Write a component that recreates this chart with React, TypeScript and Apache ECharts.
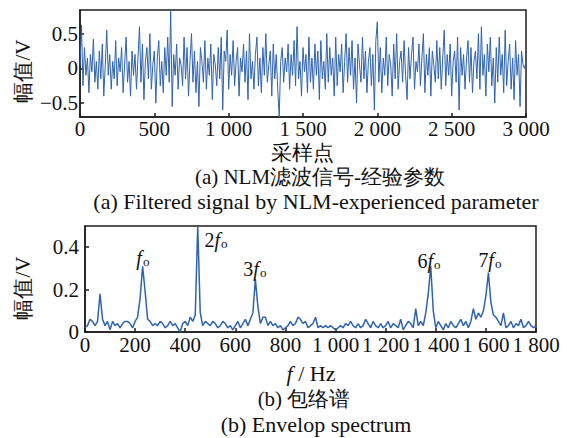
import React, { useEffect, useRef } from 'react';
import * as echarts from 'echarts';

// ---------- data ----------
const signalStep = 10; // samples between stored points
const signalValues = [
  0.05, 0.62, -0.25, 0.3, -0.1, 0.15, -0.35, 0.2, -0.05, 0.42, -0.2, 0.1, -0.3, 0.25, -0.15, 0.35, -0.4, 0.05, 0.55, -0.1,
  0.2, -0.3, 0.1, -0.15, 0.4, -0.25, 0.15, -0.05, 0.3, -0.35, 0.05, 0.45, -0.2, 0.1, -0.4, 0.25, -0.1, 0.2, -0.3, 0.15,
  0.6, -0.2, 0.35, -0.45, 0.1, 0.3, -0.15, 0.5, -0.3, 0.05, 0.25, -0.5, 0.15, 0.4, -0.25, 0.1, -0.35, 0.3, -0.1, 0.45,
  -0.2, 0.82, -0.55, 0.2, -0.1, 0.35, -0.3, 0.15, 0.05, -0.25, 0.45, -0.15, 0.3, -0.4, 0.1, 0.5, -0.2, 0.25, -0.35, 0.1,
  -0.55, 0.3, 0.1, -0.2, 0.4, -0.3, 0.15, -0.1, 0.35, -0.45, 0.2, 0.05, -0.25, 0.3, -0.15, 0.45, -0.6, 0.25, 0.1, 0.55,
  -0.3, 0.2, -0.1, 0.4, -0.25, 0.1, 0.3, -0.4, 0.15, -0.05, 0.35, -0.2, 0.25, -0.45, 0.5, -0.15, 0.1, -0.3, 0.2, 0.45,
  -0.25, 0.15, -0.35, 0.3, -0.1, 0.5, -0.2, 0.05, 0.25, -0.4, 0.35, -0.15, 0.2, -0.3, -0.7, 0.1, 0.3, -0.2, 0.15, -0.05,
  0.35, -0.3, 0.2, -0.1, 0.4, -0.25, 0.6, -0.15, 0.1, -0.4, 0.3, -0.05, 0.2, -0.35, 0.45, -0.2, 0.15, -0.3, 0.35, -0.1,
  0.25, -0.45, 0.4, -0.15, 0.1, -0.3, 0.5, -0.2, 0.3, -0.1, 0.15, -0.4, 0.45, -0.25, 0.2, -0.05, 0.35, -0.35, 0.1, 0.5,
  -0.2, 0.3, -0.1, 0.4, -0.3, 0.15, -0.5, 0.35, 0.05, -0.2, 0.45, -0.15, 0.25, -0.35, 0.1, 0.3, -0.25, 0.2, -0.6, 0.4,
  0.67, -0.2, 0.3, -0.35, 0.15, -0.1, 0.45, -0.25, 0.2, 0.05, -0.4, 0.35, -0.15, 0.5, -0.3, 0.1, 0.25, -0.2, 0.4, -0.1,
  -0.45, 0.3, -0.15, 0.2, 0.45, -0.3, 0.1, -0.05, 0.35, -0.25, 0.15, 0.5, -0.35, 0.2, -0.1, 0.3, -0.4, 0.25, 0.05, -0.2,
  0.4, -0.15, 0.3, -0.3, 0.15, 0.55, -0.25, 0.2, -0.1, 0.35, -0.4, 0.1, 0.25, -0.2, 0.45, -0.6, 0.3, -0.1, 0.2, -0.3,
  0.15, 0.4, -0.2, 0.3, -0.35, 0.1, 0.25, -0.15, 0.5, -0.3, 0.6, -0.1, 0.2, -0.4, 0.35, -0.05, 0.45, -0.25, 0.15, -0.5,
  0.3, -0.2, 0.45, -0.1, 0.2, -0.35, 0.55, -0.25, 0.1, 0.35, -0.3, 0.15, -0.45, 0.4, -0.1, 0.2, -0.55, 0.25, 0.05, 0.0,
  0.1,
];

const spectrumStep = 10; // Hz between stored points
const spectrumValues = [
  0.02, 0.03, 0.06, 0.05, 0.03, 0.05, 0.18, 0.06, 0.03, 0.05,
  0.01, 0.05, 0.03, 0.04, 0.02, 0.04, 0.05, 0.05, 0.04, 0.02,
  0.05, 0.07, 0.16, 0.31, 0.19, 0.06, 0.05, 0.03, 0.04, 0.03,
  0.05, 0.04, 0.02, 0.03, 0.05, 0.03, 0.04, 0.02, 0.0, 0.04,
  0.05, 0.03, 0.07, 0.05, 0.08, 0.5, 0.09, 0.03, 0.05, 0.04,
  0.03, 0.05, 0.04, 0.02, 0.03, 0.05, 0.04, 0.02, 0.03, 0.01,
  0.03, 0.05, 0.02, 0.04, 0.06, 0.03, 0.06, 0.09, 0.25, 0.12,
  0.04, 0.07, 0.07, 0.03, 0.05, 0.03, 0.04, 0.02, 0.03, 0.01,
  0.02, 0.03, 0.05, 0.03, 0.04, 0.07, 0.06, 0.04, 0.05, 0.02,
  0.03, 0.04, 0.07, 0.02, 0.03, 0.02, 0.03, 0.02, 0.03, 0.02,
  0.01, 0.02, 0.03, 0.02, 0.04, 0.03, 0.05, 0.03, 0.02, 0.04,
  0.02, 0.03, 0.06, 0.04, 0.02, 0.05, 0.03, 0.02, 0.04, 0.02,
  0.03, 0.05, 0.02, 0.04, 0.03, 0.02, 0.06, 0.01, 0.03, 0.05,
  0.04, 0.02, 0.11, 0.03, 0.05, 0.03, 0.09, 0.18, 0.31, 0.1,
  0.02, 0.05, 0.03, 0.01, 0.04, 0.02, 0.05, 0.03, 0.02, 0.04,
  0.06, 0.03, 0.05, 0.02, 0.05, 0.11, 0.06, 0.09, 0.07, 0.1,
  0.17, 0.28, 0.14, 0.08, 0.07, 0.05, 0.03, 0.09, 0.02, 0.03,
  0.05, 0.02, 0.04, 0.03, 0.06, 0.02, 0.03, 0.05, 0.03, 0.02,
  0.03,
];

const signalYTicks = [-0.5, 0, 0.5];
const spectrumYTicks = [0, 0.2, 0.4];

// harmonic annotations: prefix, frequency (Hz), height (V) where the label sits
const harmonicPrefixes = ['', '2', '3', '6', '7'];
const harmonicFreqs = [231, 523, 678, 1373, 1616];
const harmonicHeights = [0.355, 0.44, 0.3, 0.34, 0.345];

const topTitle = '(a) NLM滤波信号-经验参数';
const topTitleEn = '(a) Filtered signal by NLM-experienced parameter';
const bottomTitle = '(b) 包络谱';
const bottomTitleEn = '(b) Envelop spectrum';
const yName = '幅值/V';
const topXName = '采样点';

// ---------- styling ----------
const FONT = 'Liberation Serif';
const LINE_COLOR = '#2f63ae';
const AXIS_COLOR = '#1c1c1c';
const FS_TICK = 21;
const FS_CN = 21;
const FS_EN = 22;

function fmtThousands(v: number): string {
  if (v >= 1000) {
    const s = String(v);
    return s.slice(0, s.length - 3) + ' ' + s.slice(-3);
  }
  return String(v);
}
function fmtSigned(v: number): string {
  if (v < 0) return '\u2212' + String(-v);
  return String(v);
}

function axisBase() {
  return {
    axisLine: { show: true, onZero: false, lineStyle: { color: AXIS_COLOR, width: 1.5 } },
    axisTick: { show: true, inside: true, length: 4, lineStyle: { color: AXIS_COLOR, width: 1.5 } },
    splitLine: { show: false },
  };
}

export default function App() {
  const ref = useRef<HTMLDivElement>(null);

  useEffect(() => {
    if (!ref.current) return;
    const chart = echarts.init(ref.current, null, { renderer: 'svg' });

    const signalData = signalValues.map((v, i) => [i * signalStep, v]);
    const spectrumData = spectrumValues.map((v, i) => [i * spectrumStep, v]);

    const labelStyle = { fontSize: FS_TICK, color: '#111', fontFamily: FONT };

    const markData = harmonicPrefixes.map((p, i) => ({
      coord: [harmonicFreqs[i], harmonicHeights[i]],
      label: {
        show: true,
        position: 'inside',
        fontFamily: FONT,
        formatter: (p ? '{n|' + p + '}' : '') + '{f|f}{o|o}',
        rich: {
          n: { fontSize: 20, fontFamily: FONT, color: '#111', lineHeight: 22, verticalAlign: 'bottom' },
          f: { fontSize: 20, fontFamily: FONT, fontStyle: 'italic', color: '#111', lineHeight: 22, verticalAlign: 'bottom' },
          o: { fontSize: 13, fontFamily: FONT, color: '#111', lineHeight: 22, verticalAlign: 'bottom', padding: [0, 0, 0, 1] },
        },
      },
    }));

    const txt = (text: string, x: number, y: number, size: number, extra: any = {}) => ({
      type: 'text', x, y, rotation: extra.rotation || 0,
      style: {
        text, fontSize: size, fontFamily: FONT, fill: '#111',
        align: 'center', verticalAlign: 'middle',
        ...(extra.style || {}),
      },
    });

    const option: any = {
      animation: false,
      backgroundColor: '#ffffff',
      grid: [
        { left: 80, top: 10, width: 446, height: 107, show: true, borderColor: AXIS_COLOR, borderWidth: 1.5 },
        { left: 85, top: 226, width: 451, height: 106, show: true, borderColor: AXIS_COLOR, borderWidth: 1.5 },
      ],
      xAxis: [
        {
          gridIndex: 0, type: 'value', min: 0, max: 3000, interval: 500,
          ...axisBase(),
          axisLabel: { ...labelStyle, margin: 1, formatter: fmtThousands },
        },
        {
          gridIndex: 1, type: 'value', min: 0, max: 1800, interval: 200,
          ...axisBase(),
          axisLabel: { ...labelStyle, margin: 2, formatter: fmtThousands },
        },
      ],
      yAxis: [
        {
          gridIndex: 0, type: 'value', min: -0.7, max: 0.84,
          ...axisBase(),
          axisTick: { show: true, inside: true, length: 4, customValues: signalYTicks, lineStyle: { color: AXIS_COLOR, width: 1.5 } },
          axisLabel: { ...labelStyle, margin: 2, customValues: signalYTicks, formatter: fmtSigned },
        },
        {
          gridIndex: 1, type: 'value', min: 0, max: 0.5,
          ...axisBase(),
          axisTick: { show: true, inside: true, length: 4, customValues: spectrumYTicks, lineStyle: { color: AXIS_COLOR, width: 1.5 } },
          axisLabel: { ...labelStyle, margin: 6, customValues: spectrumYTicks, formatter: fmtSigned },
        },
      ],
      series: [
        {
          type: 'line', xAxisIndex: 0, yAxisIndex: 0, data: signalData,
          showSymbol: false, symbol: 'none',
          lineStyle: { color: LINE_COLOR, width: 1 },
          z: 1,
        },
        {
          type: 'line', xAxisIndex: 1, yAxisIndex: 1, data: spectrumData,
          showSymbol: false, symbol: 'none',
          lineStyle: { color: LINE_COLOR, width: 1.5 },
          markPoint: {
            symbol: 'circle', symbolSize: 1,
            itemStyle: { color: 'rgba(0,0,0,0)' },
            data: markData,
          },
          z: 1,
        },
      ],
      graphic: [
        txt(yName, 23, 71, FS_CN, { rotation: Math.PI / 2 }),
        txt(yName, 23, 288, FS_CN, { rotation: Math.PI / 2 }),
        txt(topXName, 302, 153, FS_CN),
        txt(topTitle, 320, 177, FS_CN),
        txt(topTitleEn, 316, 201, FS_EN),
        txt('{i|f} / Hz', 311, 373, FS_EN, {
          style: { rich: { i: { fontSize: FS_EN, fontFamily: FONT, fontStyle: 'italic', fill: '#111' } } },
        }),
        txt(bottomTitle, 304, 399, FS_CN),
        txt(bottomTitleEn, 316, 424, FS_EN),
      ],
    };

    chart.setOption(option);
    return () => chart.dispose();
  }, []);

  return (
    <div
      ref={ref}
      style={{ position: 'fixed', left: 0, top: 0, width: 567, height: 438, background: '#fff' }}
    />
  );
}
